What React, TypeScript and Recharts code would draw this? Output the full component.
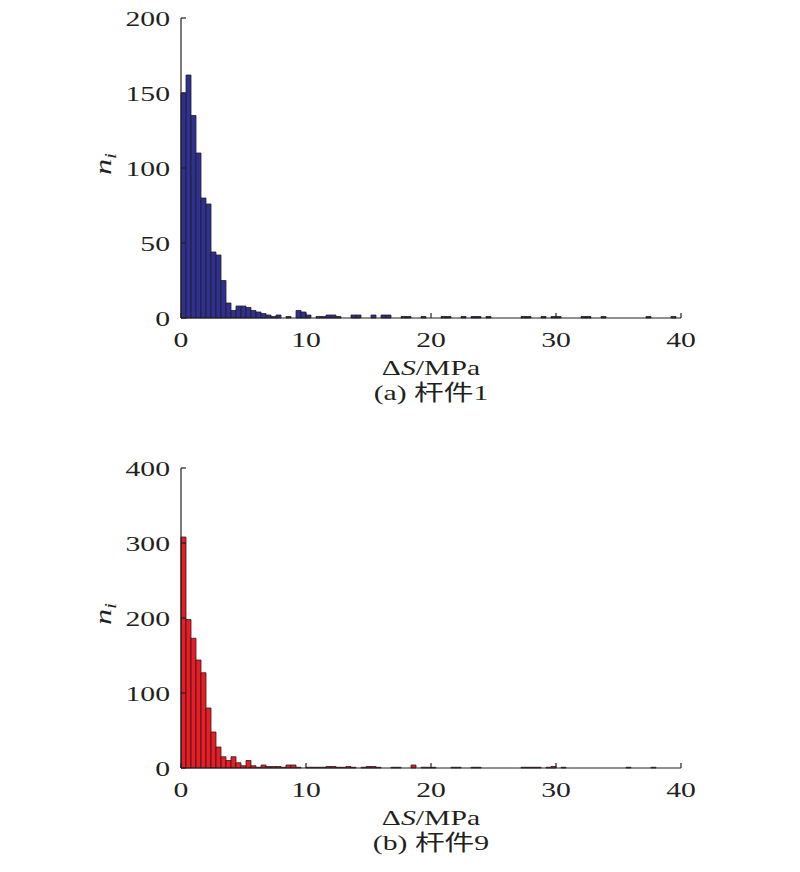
import { BarChart, Bar, XAxis, YAxis } from "recharts";

// counts per 0.4 MPa bin, 0..40 MPa (100 bins)
const member1Counts = [
  150, 162, 135, 110, 80, 76, 44, 42, 25, 10,
  5, 8, 8, 7, 5, 4, 3, 2, 1, 2,
  0, 1, 0, 5, 4, 2, 0, 1, 1, 2,
  2, 1, 0, 0, 2, 2, 0, 0, 2, 0,
  2, 2, 0, 0, 1, 1, 0, 0, 1, 0,
  0, 0, 1, 1, 0, 0, 1, 0, 1, 1,
  0, 1, 0, 0, 0, 0, 0, 0, 1, 1,
  0, 0, 1, 0, 1, 1, 0, 0, 0, 0,
  1, 1, 0, 0, 1, 0, 0, 0, 0, 0,
  0, 0, 0, 1, 0, 0, 0, 0, 1, 0,
];

const member9Counts = [
  308, 198, 173, 144, 127, 80, 48, 28, 15, 10,
  15, 7, 3, 10, 3, 1, 4, 2, 2, 2,
  1, 4, 4, 1, 0, 1, 1, 1, 1, 2,
  2, 1, 1, 2, 1, 0, 1, 2, 2, 1,
  0, 0, 1, 1, 0, 0, 4, 0, 1, 1,
  1, 0, 0, 0, 1, 1, 0, 0, 1, 1,
  0, 0, 0, 0, 0, 0, 0, 0, 1, 1,
  1, 1, 0, 1, 2, 0, 1, 0, 0, 0,
  0, 0, 0, 0, 0, 0, 0, 0, 0, 1,
  0, 0, 0, 0, 1, 0, 0, 0, 0, 0,
];

const binWidth = 0.4;
const xTicks = [0, 10, 20, 30, 40];
const yTicks1 = [0, 50, 100, 150, 200];
const yTicks9 = [0, 100, 200, 300, 400];

const FONT = "'Liberation Serif', 'Times New Roman', 'Noto Sans CJK SC', serif";
const INK = "#231f20";
const WIDE = 1.35; // the source typesetting is noticeably wide

function WideText({ x, y, anchor, rotate, size = 22, children, ...rest }: any) {
  const t = `translate(${x} ${y})${rotate ? ` rotate(${rotate})` : ""} scale(${WIDE} 1)`;
  return (
    <text
      transform={t}
      textAnchor={anchor}
      fontFamily={FONT}
      fontSize={size}
      fill={INK}
      {...rest}
    >
      {children}
    </text>
  );
}

function XTick({ x, y, payload }: any) {
  return (
    <g>
      <line x1={x} x2={x} y1={y - 13} y2={y - 18} stroke={INK} strokeWidth={1.2} />
      <WideText x={x} y={y + 15.6} anchor="middle">
        {payload.value}
      </WideText>
    </g>
  );
}

function YTick({ x, y, payload }: any) {
  return (
    <g>
      <line x1={x + 11} x2={x + 16} y1={y} y2={y} stroke={INK} strokeWidth={1.2} />
      <WideText x={x} y={y + 7.7} anchor="end">
        {payload.value}
      </WideText>
    </g>
  );
}

function YLabel({ viewBox }: any) {
  const cx = viewBox.x + 50;
  const cy = viewBox.y + viewBox.height / 2 - 4;
  return (
    <WideText x={cx} y={cy} rotate={-90} anchor="middle" size={24} fontStyle="italic">
      n
      <tspan fontSize={16} dy={5}>i</tspan>
    </WideText>
  );
}

function XLabel({ viewBox, caption }: any) {
  const cx = viewBox.x + viewBox.width / 2;
  return (
    <g>
      <WideText x={cx} y={viewBox.y + 57} anchor="middle">
        Δ<tspan fontStyle="italic">S</tspan>/MPa
      </WideText>
      <WideText x={cx} y={viewBox.y + 82} anchor="middle">
        {caption}
      </WideText>
    </g>
  );
}

function Histogram({ counts, yTicks, fill, caption }: any) {
  const data = counts.map((n: number, i: number) => ({
    bin: i,
    mid: (i + 0.5) * binWidth,
    n,
  }));
  return (
    <BarChart
      width={800}
      height={450}
      data={data}
      margin={{ top: 18, right: 119, bottom: 42, left: 61 }}
      barCategoryGap={0}
      barGap={0}
    >
      <XAxis xAxisId="bins" dataKey="bin" type="category" hide height={0} />
      <XAxis
        xAxisId="mpa"
        dataKey="mid"
        type="number"
        domain={[0, 40]}
        ticks={xTicks}
        allowDataOverflow
        interval={0}
        height={90}
        tickSize={0}
        tickMargin={13}
        tickLine={false}
        tick={<XTick />}
        axisLine={{ stroke: INK, strokeWidth: 1.2 }}
        label={{ content: <XLabel caption={caption} /> }}
      />
      <YAxis
        domain={[0, yTicks[yTicks.length - 1]]}
        ticks={yTicks}
        interval={0}
        width={120}
        tickSize={0}
        tickMargin={11}
        tickLine={false}
        tick={<YTick />}
        axisLine={{ stroke: INK, strokeWidth: 1.2 }}
        label={{ content: <YLabel /> }}
      />
      <Bar
        xAxisId="bins"
        dataKey="n"
        fill={fill}
        stroke={INK}
        strokeWidth={0.8}
        isAnimationActive={false}
      />
    </BarChart>
  );
}

export default function App() {
  return (
    <div
      style={{
        position: "absolute",
        left: 0,
        top: 0,
        width: 800,
        height: 872,
        background: "#fff",
      }}
    >
      <Histogram counts={member1Counts} yTicks={yTicks1} fill="#2e3192" caption="(a) 杆件1" />
      <Histogram counts={member9Counts} yTicks={yTicks9} fill="#ed1c24" caption="(b) 杆件9" />
    </div>
  );
}
